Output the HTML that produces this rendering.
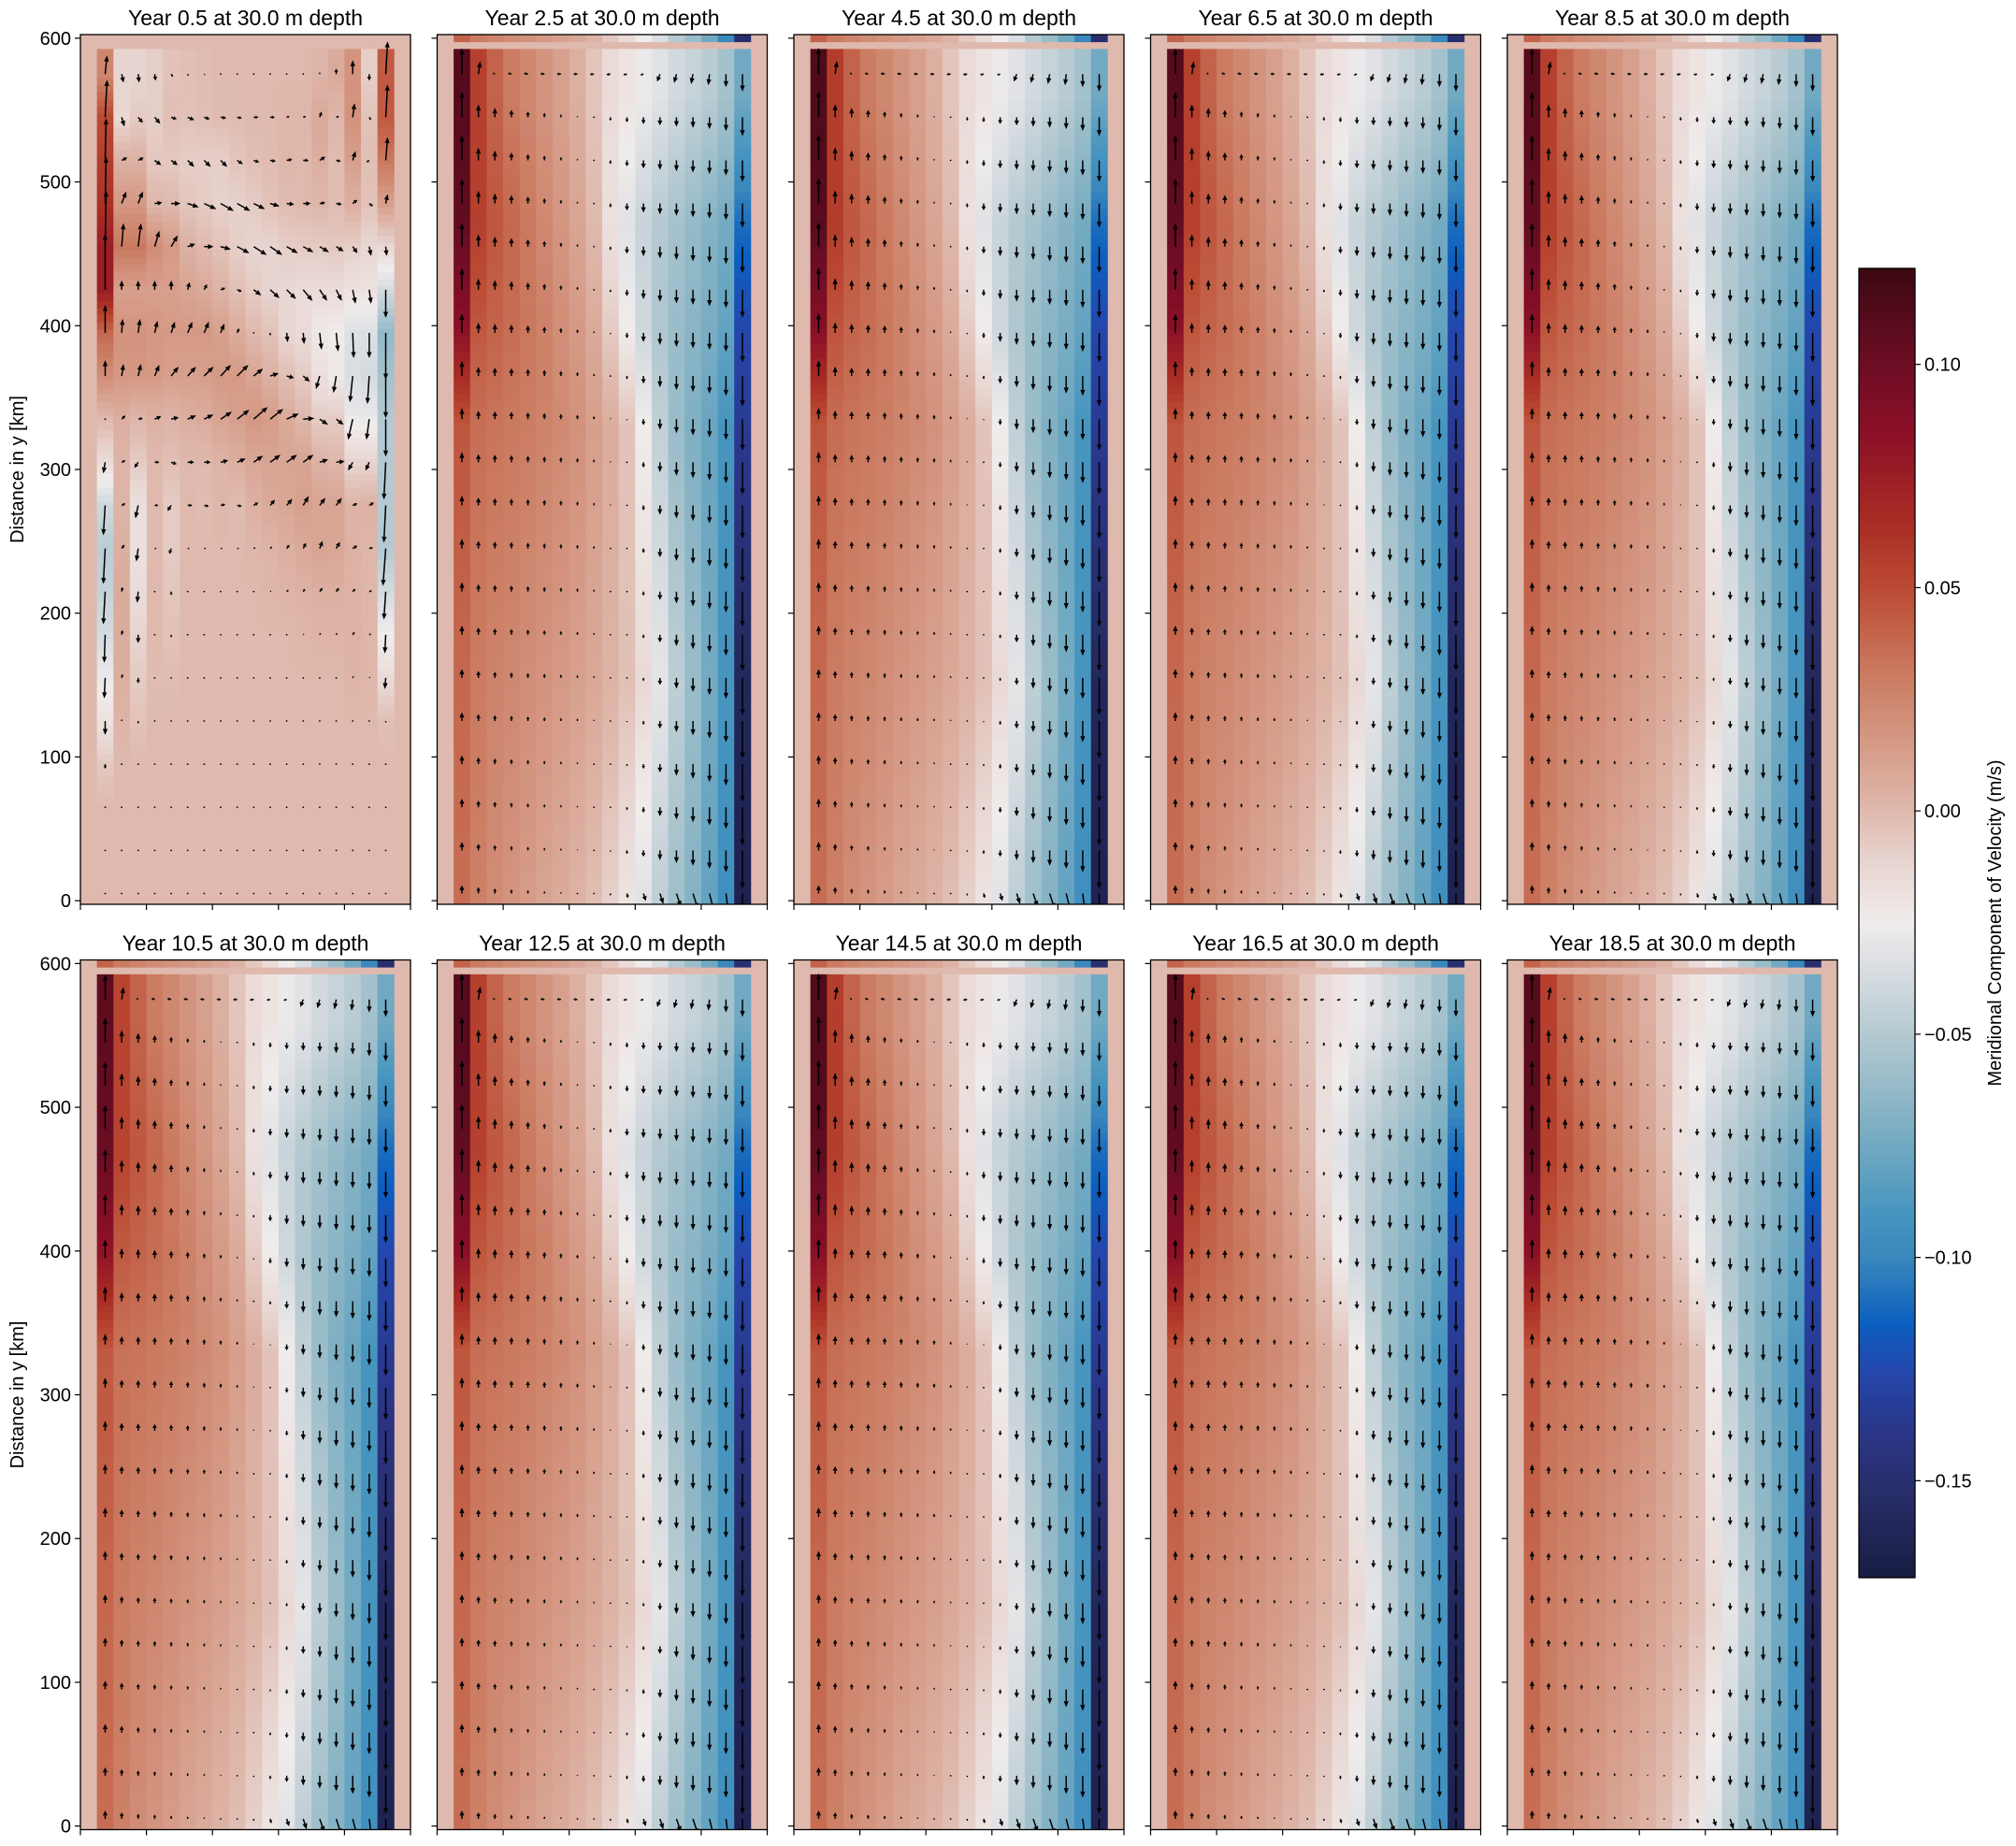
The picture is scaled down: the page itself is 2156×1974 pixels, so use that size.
<!DOCTYPE html>
<html><head><meta charset="utf-8"><title>Meridional velocity panels</title>
<style>
html,body{margin:0;padding:0;background:#fff;}
svg{display:block;font-family:"Liberation Sans","DejaVu Sans",sans-serif;}
</style></head>
<body>
<svg id="fig" width="2156" height="1974" viewBox="0 0 2156 1974" xmlns="http://www.w3.org/2000/svg"></svg>
<script>
// ---------- data ----------
const panelTitles = ["Year 0.5 at 30.0 m depth","Year 2.5 at 30.0 m depth","Year 4.5 at 30.0 m depth","Year 6.5 at 30.0 m depth","Year 8.5 at 30.0 m depth","Year 10.5 at 30.0 m depth","Year 12.5 at 30.0 m depth","Year 14.5 at 30.0 m depth","Year 16.5 at 30.0 m depth","Year 18.5 at 30.0 m depth"];
const yTicks = [0,100,200,300,400,500,600];
const cbarTicks = [0.10,0.05,0.00,-0.05,-0.10,-0.15];
const cbarTickLabels = ["0.10","0.05","0.00","\u22120.05","\u22120.10","\u22120.15"];
const vmin = -0.1717, vmax = 0.1215;

// Year 0.5: quiver rows (y km) and u/v in quiver px units (800 px per m/s)
const p1RowsY = [575,545,515,485,455,425,395,365,335,305,275,245,215,185,155,125,95,65,35,5];
const p1U = [
[2,2,1,1,2,1,1,1,0,0,0,0,0,0,0,0,0,2],
[2,3,5,6,6,7,6,6,5,5,5,3,3,2,3,2,2,2],
[1,6,6,7,7,7,7,7,6,6,6,6,6,6,5,3,-3,2],
[1,5,5,8,10,12,13,14,14,12,10,8,8,6,6,5,4,2],
[1,2,3,5,7,8,10,11,13,14,13,12,11,10,8,5,2,1],
[0,0,0,0,0,2,3,5,5,8,10,10,10,8,6,3,2,0],
[0,1,2,3,4,5,5,4,2,0,0,1,1,2,2,1,0,0],
[0,2,3,5,8,9,10,11,12,10,9,8,7,-4,-3,-3,-2,0],
[0,4,5,7,8,9,10,12,13,15,14,13,12,9,8,-5,-3,0],
[-2,4,-4,5,6,7,7,8,9,10,11,11,11,9,9,-5,-4,-2],
[-2,4,-3,4,-4,5,5,5,5,5,5,6,6,6,6,5,5,-2],
[-2,3,-2,2,-2,2,2,2,2,2,2,3,3,3,4,5,4,-3],
[-2,1,-1,1,0,1,1,1,1,1,1,2,2,3,3,3,3,-2],
[-1,1,0,0,0,1,1,1,1,1,1,1,1,1,1,2,2,-1],
[-1,1,0,0,0,0,0,0,0,0,0,0,0,0,0,1,1,-1],
[0,0,0,0,0,0,0,0,0,0,0,0,0,0,0,0,0,0],
[0,0,0,0,0,0,0,0,0,0,0,0,0,0,0,0,0,0],
[0,0,0,0,0,0,0,0,0,0,0,0,0,0,0,0,0,0],
[0,0,0,0,0,0,0,0,0,0,0,0,0,0,0,0,0,0],
[0,0,0,0,0,0,0,0,0,0,0,0,0,0,0,0,0,0]];
const p1V = [
[20,-9,-9,-7,-3,-2,-1,0,0,0,0,0,0,2,6,15,-7,35],
[40,-10,-6,-7,-2,-3,-2,-1,-1,0,0,1,1,6,1,15,-3,35],
[45,3,3,-5,-5,-7,-7,-7,-4,-2,-1,1,0,4,-1,10,-2,25],
[50,13,13,1,0,-4,-6,-8,-8,-6,-3,-1,0,1,-1,4,-3,10],
[60,25,25,17,12,3,0,-3,-7,-9,-9,-7,-6,-6,-5,-7,-10,-10],
[60,10,10,10,10,8,6,2,-2,-6,-9,-10,-12,-12,-12,-15,-15,-30],
[30,15,15,13,12,12,12,10,5,0,-3,-10,-12,-18,-20,-27,-27,-50],
[17,13,13,12,10,10,10,12,12,8,3,-2,-6,-14,-18,-28,-30,-45],
[0,4,1,3,2,4,5,8,10,13,11,6,1,-6,-6,-22,-22,-40],
[-12,2,-6,0,-2,0,0,2,4,7,8,8,8,3,1,-9,-9,-40],
[-32,2,-14,0,-6,0,-1,1,-1,3,6,7,10,8,8,2,3,-40],
[-38,4,-14,0,-6,0,0,0,0,1,2,4,6,8,7,3,1,-40],
[-35,5,-12,0,-4,0,0,0,0,0,1,2,3,4,4,3,1,-30],
[-30,5,-9,0,-3,0,0,0,0,0,0,0,1,2,2,3,1,-20],
[-22,4,-6,-1,-1,0,0,0,0,0,0,0,0,0,0,2,1,-12],
[-15,2,-3,0,0,0,0,0,0,0,0,0,0,0,0,0,0,-2],
[-5,0,0,0,0,0,0,0,0,0,0,0,0,0,0,0,0,0],
[0,0,0,0,0,0,0,0,0,0,0,0,0,0,0,0,0,0],
[0,0,0,0,0,0,0,0,0,0,0,0,0,0,0,0,0,0],
[0,0,0,0,0,0,0,0,0,0,0,0,0,0,0,0,0,0]];

// Years 2.5-18.5: meridional velocity profiles (m/s) across the 18 ocean columns at given y (km)
const profY = [0,150,330,400,470,560];
const profV0   = [0.036,0.028,0.022,0.018,0.014,0.010,0.007,0.003,-0.002,-0.010,-0.020,-0.032,-0.046,-0.058,-0.068,-0.080,-0.095,-0.165];
const profV150 = [0.038,0.030,0.026,0.024,0.021,0.018,0.015,0.012,0.008,0.003,-0.003,-0.014,-0.030,-0.046,-0.060,-0.074,-0.090,-0.160];
const profV330 = [0.045,0.035,0.033,0.031,0.029,0.026,0.023,0.019,0.013,0.006,-0.004,-0.025,-0.045,-0.060,-0.070,-0.078,-0.090,-0.135];
const profV400 = [0.085,0.045,0.040,0.036,0.032,0.027,0.021,0.015,0.007,-0.008,-0.025,-0.040,-0.052,-0.060,-0.066,-0.072,-0.080,-0.125];
const profV470 = [0.105,0.055,0.045,0.038,0.031,0.024,0.017,0.010,0.000,-0.018,-0.032,-0.042,-0.050,-0.056,-0.062,-0.068,-0.074,-0.110];
const profV560 = [0.110,0.055,0.040,0.030,0.024,0.018,0.012,0.005,-0.005,-0.015,-0.020,-0.027,-0.032,-0.038,-0.043,-0.048,-0.056,-0.075];
const topStripV = [0.040,0.030,0.026,0.022,0.019,0.016,0.012,0.008,0.003,-0.006,-0.015,-0.025,-0.035,-0.050,-0.060,-0.075,-0.100,-0.150];
const topRowU   = [0,0.008,-0.008,-0.015,-0.018,-0.018,-0.018,-0.018,-0.018,-0.018,-0.016,-0.014,-0.012,-0.01,-0.008,-0.005,0,0];
const bottomRowU = [0,0,0,0,0,0,0,0,0,0,0.005,0.01,0.015,0.02,0.022,0.02,0.012,0];
// per-panel strength of the western boundary current (years 2.5..18.5)
const westScale = [1.0,1.03,1.0,1.0,0.97,1.0,1.02,1.0,1.0];

// ---------- layout ----------
const NS = "http://www.w3.org/2000/svg";
const svg = document.getElementById('fig');
const AX_W = 353, AX_H = 930;
const colLefts = [86,467.5,849,1230.5,1612];
const rowTops = [37,1026.5];
const NC = 20, CW = AX_W/NC;
const Y0 = -2.5, Y1 = 602.5;
function el(tag, attrs, parent){ const e=document.createElementNS(NS,tag); for(const k in attrs) e.setAttribute(k,attrs[k]); (parent||svg).appendChild(e); return e; }

const cmapStops = [
[-0.1717,"#181c43"],[-0.155,"#262c64"],[-0.14,"#2b3585"],[-0.125,"#2447ad"],[-0.115,"#0b5fbf"],
[-0.10,"#3a88bd"],[-0.09,"#4795bf"],[-0.07,"#80b0c3"],[-0.05,"#b4c9d1"],[-0.035,"#dadee2"],
[-0.025,"#f0ecec"],[-0.012,"#e8d6d2"],[0.0,"#dfb9ad"],[0.015,"#d59a86"],[0.03,"#cb7c62"],
[0.05,"#bb4a33"],[0.065,"#a82c24"],[0.085,"#8b0f27"],[0.10,"#6d0d24"],[0.1215,"#3c0912"]];
function hex2rgb(h){return [parseInt(h.substr(1,2),16),parseInt(h.substr(3,2),16),parseInt(h.substr(5,2),16)];}
function cmap(v){
  if(v<=cmapStops[0][0]) return cmapStops[0][1];
  for(let i=1;i<cmapStops.length;i++){
    if(v<=cmapStops[i][0]){
      const a=cmapStops[i-1], b=cmapStops[i], t=(v-a[0])/(b[0]-a[0]);
      const ca=hex2rgb(a[1]), cb=hex2rgb(b[1]);
      return "rgb("+ca.map((c,k)=>Math.round(c+(cb[k]-c)*t)).join(",")+")";
    }
  }
  return cmapStops[cmapStops.length-1][1];
}
function lerpRows(ys, rows, y, c){
  if(y<=ys[0]) return rows[0][c];
  for(let i=1;i<ys.length;i++){ if(y<=ys[i]){const t=(y-ys[i-1])/(ys[i]-ys[i-1]); return rows[i-1][c]+(rows[i][c]-rows[i-1][c])*t;} }
  return rows[rows.length-1][c];
}
const profRows = [profV0,profV150,profV330,profV400,profV470,profV560];
const p1Asc = p1RowsY.slice().reverse();
const p1VAsc = p1V.slice().reverse();

function fieldValue(p, c, y){ // c: 1..18 ocean column
  if(p===0){ return lerpRows(p1Asc, p1VAsc, y, c-1)/800; }
  let v = lerpRows(profY, profRows, y, c-1);
  if(c<=2 && y>300) v *= westScale[p-1];
  return v;
}

for(let p=0;p<10;p++){
  const ax0 = colLefts[p%5], ay0 = rowTops[Math.floor(p/5)];
  const xs = x => ax0 + x*CW;
  const ys = y => ay0 + (Y1 - y)*AX_H/(Y1-Y0);
  const g = el('g',{});
  
  
  const clip = el('clipPath',{id:'clip'+p});
  el('rect',{x:ax0,y:ay0,width:AX_W,height:AX_H},clip);
  const cells = el('g',{'clip-path':'url(#clip'+p+')'},g);
  
  
  el('rect',{x:ax0,y:ay0,width:AX_W,height:AX_H,fill:cmap(0)},cells);
  for(let j=0;j<=120;j++){
    const y = j*5;
    for(let c=1;c<=18;c++){
      let v;
      if(j===120) v = (p===0)?0:topStripV[c-1];
      else if(j===119) v = 0;
      else v = fieldValue(p,c,y);
      if(Math.abs(v)<1e-6) continue;
      const r = el('rect',{x:xs(c).toFixed(2),y:ys(y+2.5).toFixed(2),width:(CW+0.4).toFixed(2),height:(AX_H/121+0.4).toFixed(2),fill:cmap(v)},cells);
      
      
    }
  }
  // quiver arrows
  const qg = el('g',{'clip-path':'url(#clip'+p+')'},g);
  
  
  for(let k=0;k<p1RowsY.length;k++){
    const y = p1RowsY[k];
    for(let c=1;c<=18;c++){
      let dx, dy;
      if(p===0){ dx = p1U[k][c-1]; dy = p1V[k][c-1]; }
      else {
        const v = fieldValue(p,c,y);
        let u = 0;
        if(k===0) u = topRowU[c-1];
        if(k===p1RowsY.length-1) u = bottomRowU[c-1];
        const vv = (k===0 && c>=3 && c<=12)? v*0.15 : v;
        dx = u*250; dy = vv*250;
      }
      const x0 = xs(c+0.5), y0 = ys(y);
      const L = Math.hypot(dx,dy);
      if(L<1.2){
        const d = el('circle',{cx:x0,cy:y0,r:0.9,fill:'#000'},qg);
        
        
        continue;
      }
      const ux = dx/L, uy = -dy/L;
      const hl = Math.min(6.5, L*0.6), hw = Math.min(2.6, 0.5+L*0.25);
      const x1 = x0+ux*L, y1 = y0+uy*L;
      const bx = x1-ux*hl, by = y1-uy*hl;
      const px = -uy, py = ux;
      const a = el('g',{},qg);
      
      
      el('line',{x1:x0.toFixed(2),y1:y0.toFixed(2),x2:bx.toFixed(2),y2:by.toFixed(2),stroke:'#000','stroke-width':1.5},a);
      el('polygon',{points:`${x1.toFixed(2)},${y1.toFixed(2)} ${(bx+px*hw).toFixed(2)},${(by+py*hw).toFixed(2)} ${(bx-px*hw).toFixed(2)},${(by-py*hw).toFixed(2)}`,fill:'#000'},a);
    }
  }
  // frame
  const fr = el('rect',{x:ax0,y:ay0,width:AX_W,height:AX_H,fill:'none',stroke:'#000','stroke-width':1.3},g);
  
  
  // y ticks
  for(let t=0;t<yTicks.length;t++){
    const ty = ys(yTicks[t]);
    el('line',{x1:ax0-6,y1:ty,x2:ax0,y2:ty,stroke:'#000','stroke-width':1.2},g);
    if(p%5===0){
      const tl = el('text',{x:ax0-10,y:ty+7,'font-size':20,'text-anchor':'end',fill:'#000'},g);
      
      
      tl.textContent = yTicks[t];
    }
  }
  // x ticks
  for(let t=0;t<=5;t++){
    const tx = ax0 + t*AX_W/5;
    el('line',{x1:tx,y1:ay0+AX_H,x2:tx,y2:ay0+AX_H+6,stroke:'#000','stroke-width':1.2},g);
  }
  const tt = el('text',{x:ax0+AX_W/2,y:ay0-10,'font-size':23,'text-anchor':'middle',fill:'#000'},g);
  
  
  tt.textContent = panelTitles[p];
  if(p%5===0){
    const yl = el('text',{x:0,y:0,'font-size':20,'text-anchor':'middle',fill:'#000',transform:`translate(25,${ay0+AX_H/2}) rotate(-90)`},g);
    
    
    yl.textContent = "Distance in y [km]";
  }
}

// ---------- colorbar ----------
const CB_X = 1988, CB_W = 60, CB_T = 287, CB_B = 1687;
const cb = el('g',{});


const cbY = v => CB_T + (vmax - v)*(CB_B-CB_T)/(vmax-vmin);
const NSTEP = 280;
for(let i=0;i<NSTEP;i++){
  const v = vmax - (i+0.5)*(vmax-vmin)/NSTEP;
  el('rect',{x:CB_X,y:(CB_T+i*(CB_B-CB_T)/NSTEP).toFixed(2),width:CB_W,height:((CB_B-CB_T)/NSTEP+0.6).toFixed(2),fill:cmap(v)},cb);
}
el('rect',{x:CB_X,y:CB_T,width:CB_W,height:CB_B-CB_T,fill:'none',stroke:'#000','stroke-width':1.3},cb);
for(let i=0;i<cbarTicks.length;i++){
  const ty = cbY(cbarTicks[i]);
  el('line',{x1:CB_X+CB_W,y1:ty,x2:CB_X+CB_W+6,y2:ty,stroke:'#000','stroke-width':1.2},cb);
  const t = el('text',{x:CB_X+CB_W+10,y:ty+7,'font-size':20,fill:'#000'},cb);
  
  
  t.textContent = cbarTickLabels[i];
}
const cl = el('text',{x:0,y:0,'font-size':20,'text-anchor':'middle',fill:'#000',transform:`translate(2140,${(CB_T+CB_B)/2}) rotate(-90)`},cb);


cl.textContent = "Meridional Component of Velocity (m/s)";
</script>
</body></html>
